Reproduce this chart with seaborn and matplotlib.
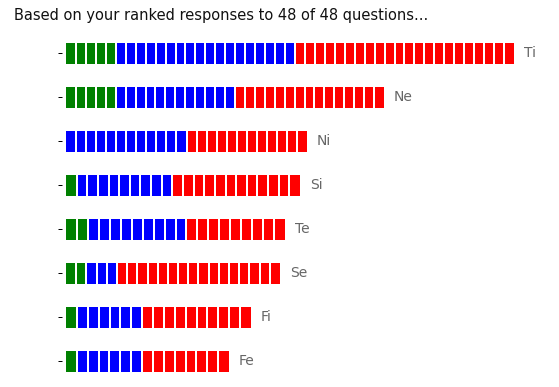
import matplotlib
matplotlib.use("Agg")
import matplotlib.pyplot as plt
import seaborn as sns
import pandas as pd
import numpy as np

functions = ["Ti", "Ne", "Ni", "Si", "Te", "Se", "Fi", "Fe"]
green_counts = [5, 5, 0, 1, 2, 2, 1, 1]
blue_counts = [18, 12, 12, 9, 9, 3, 6, 6]
red_counts = [22, 15, 12, 12, 9, 16, 10, 8]
bar_lengths = [44.8, 31.8, 24.1, 23.4, 21.9, 21.4, 18.5, 16.3]
title = "Based on your ranked responses to 48 of 48 questions..."

sns.set_style("white")
plt.rcParams["font.family"] = ["DejaVu Sans"]

df = pd.DataFrame({
    "function": functions,
    "green": green_counts,
    "blue": blue_counts,
    "red": red_counts,
    "length": bar_lengths,
})
df["n"] = df["green"] + df["blue"] + df["red"]
df["seg"] = df["length"] / df["n"]
df["green_end"] = df["green"] * df["seg"]
df["blue_end"] = (df["green"] + df["blue"]) * df["seg"]
df["red_end"] = df["length"]

W, H = 559, 387
PX = 0.72  # points per pixel at 100 dpi
fig = plt.figure(figsize=(W / 100, H / 100), dpi=100)
ax = fig.add_axes([66 / W, 3.7 / H, (W - 66) / W, (352) / H])

bw = 0.48
for col, colr in [("red_end", "#ff0000"), ("blue_end", "#0000ff"), ("green_end", "#008000")]:
    sns.barplot(data=df, x=col, y="function", order=functions, color=colr,
                width=bw, ax=ax, saturation=1, linewidth=0, errorbar=None)

# white separators between segments
for i, row in df.iterrows():
    xs = [k * row["seg"] for k in range(1, int(row["n"]))]
    ax.vlines(xs, i - bw / 2 - 0.01, i + bw / 2 + 0.01, color="white", linewidth=2 * PX)
    ax.text(row["length"] + 1.0, i, row["function"], va="center", ha="left",
            color="#666666", fontsize=10)

ax.set_xlim(0, (W - 66) / 10)
ax.set_ylim(7.5, -0.5)
for s in ax.spines.values():
    s.set_visible(False)
ax.spines["left"].set_position(("outward", 4 * PX))
ax.xaxis.set_visible(False)
ax.set_ylabel("")
ax.tick_params(axis="y", left=True, length=4 * PX, width=1 * PX, color="black", labelleft=False)

fig.text(14 / W, 1 - 20 / H, title, ha="left", va="baseline", fontsize=10.5, color="#111111")

fig.savefig("out.png", dpi=100)
